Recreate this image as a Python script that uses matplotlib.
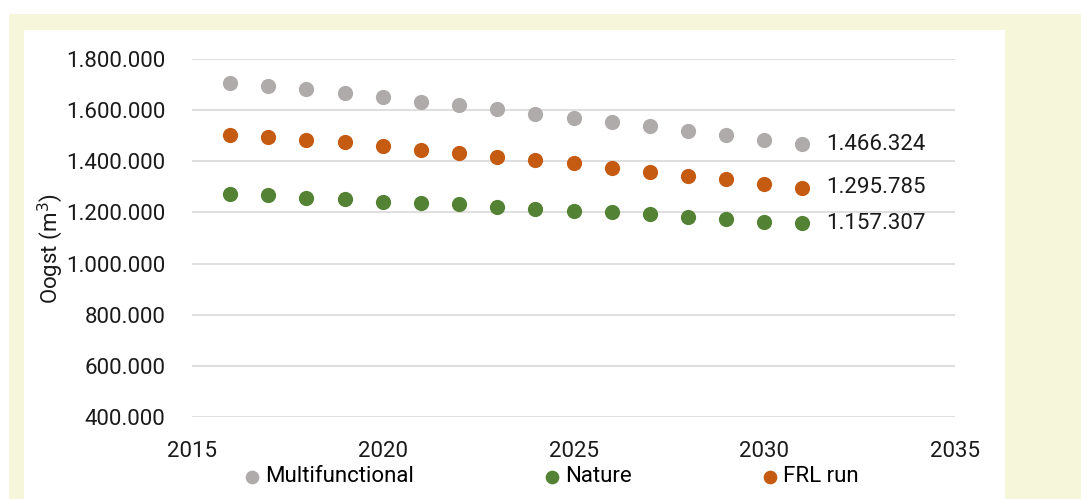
import matplotlib.pyplot as plt
from matplotlib.patches import Rectangle
from matplotlib.ticker import FuncFormatter

plt.rcParams['font.family'] = ['Roboto', 'DejaVu Sans']

# oogst per scenario (m3)
jaren = [2016, 2017, 2018, 2019, 2020, 2021, 2022, 2023, 2024, 2025, 2026, 2027, 2028, 2029, 2030, 2031]
multifunctional = [1705000, 1694000, 1681000, 1666000, 1651000, 1633000, 1620000, 1603000, 1585000,
                   1571000, 1554000, 1539000, 1520000, 1502000, 1485000, 1466324]
nature = [1274000, 1269000, 1257000, 1252000, 1242000, 1237000, 1232000, 1222000, 1214000,
          1206000, 1200000, 1193000, 1183000, 1174000, 1164000, 1157307]
frl_run = [1504000, 1496000, 1483000, 1474000, 1461000, 1444000, 1432000, 1418000, 1406000,
           1392000, 1375000, 1360000, 1344000, 1329000, 1313000, 1295785]

series = [('Multifunctional', multifunctional, '#AFABAB'),
          ('Nature', nature, '#548235'),
          ('FRL run', frl_run, '#C55A11')]


def punt(v):
    return f'{v:,.0f}'.replace(',', '.')


fig = plt.figure(figsize=(10.81, 4.99), dpi=100)
W, H = 1081, 499
# beige kader met wit vlak erin
fig.patches.append(Rectangle((9 / W, 0), 1 - 9 / W, 1 - 14 / H, transform=fig.transFigure,
                             facecolor='#F6F6DA', edgecolor='none', zorder=-2))
fig.patches.append(Rectangle((24 / W, 0), (1005 - 24) / W, 1 - 30 / H, transform=fig.transFigure,
                             facecolor='white', edgecolor='none', zorder=-1))

ax = fig.add_axes([192 / W, 1 - 417 / H, (955 - 192) / W, (417 - 59) / H])
ax.set_facecolor('none')

for naam, waarden, kleur in series:
    ax.scatter(jaren, waarden, s=120, color=kleur, label=naam, zorder=3, linewidths=0)

# waarde bij laatste jaar
for naam, waarden, kleur in series:
    ax.annotate(punt(waarden[-1]), (jaren[-1], waarden[-1]), xytext=(17, 0),
                textcoords='offset points', va='center', ha='left', fontsize=16, color='#1a1a1a')

ax.set_xlim(2015, 2035)
ax.set_ylim(400000, 1800000)
ax.set_xticks(range(2015, 2036, 5))
ax.set_yticks(range(400000, 1800001, 200000))
ax.yaxis.set_major_formatter(FuncFormatter(lambda v, p: punt(v)))
ax.grid(axis='y', color='#D9D9D9', linewidth=1.2)
ax.set_axisbelow(True)
for s in ax.spines.values():
    s.set_visible(False)
ax.tick_params(axis='both', length=0, labelsize=16, colors='#1a1a1a')
ax.tick_params(axis='y', pad=19)
ax.tick_params(axis='x', pad=17)

ax.set_ylabel('Oogst (m$^3$)', fontsize=16, color='#1a1a1a')
ax.yaxis.set_label_coords(-0.166, 0.47)

ax.legend(loc='center left', bbox_to_anchor=(244 / W, 1 - 477 / H), bbox_transform=fig.transFigure,
          ncol=3, frameon=False, fontsize=16, handlelength=0.7, handletextpad=0.25,
          columnspacing=5.85, markerscale=0.9, borderaxespad=0, borderpad=0)

fig.savefig('out.png', dpi=100, facecolor='white')
